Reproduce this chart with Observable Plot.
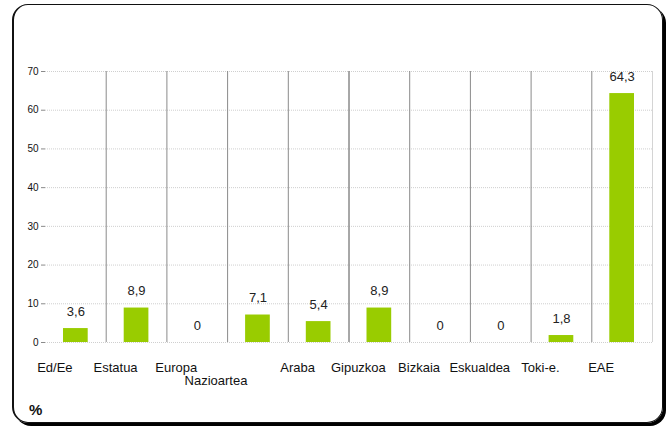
<!DOCTYPE html>
<html><head><meta charset="utf-8">
<script src="https://cdn.jsdelivr.net/npm/d3@7"></script>
<script src="https://cdn.jsdelivr.net/npm/@observablehq/plot@0.6"></script>
<style>
html,body{margin:0;padding:0;background:#fff;}
#wrap{position:relative;width:669px;height:427px;font-family:"Liberation Sans",Arial,sans-serif;}
#frame{position:absolute;left:12px;top:4px;width:648px;height:417px;border:1.5px solid #111;border-left-width:2px;border-radius:16px;box-shadow:3px 3px 0 #000;}
#pct{position:absolute;left:29px;top:401px;font-weight:bold;font-size:15px;color:#111;}
#chart{position:absolute;left:0;top:0;}
</style></head>
<body>
<div id="wrap"><div id="frame"></div><div id="chart"></div><div id="pct">%</div></div>
<script>
const categories = ["Ed/Ee","Estatua","Europa","Nazioartea","Araba","Gipuzkoa","Bizkaia","Eskualdea","Toki-e.","EAE"];
const values = [3.6, 8.9, 0, 7.1, 5.4, 8.9, 0, 0, 1.8, 64.3];
const yTicks = [0,10,20,30,40,50,60,70];

const data = categories.map((c,i)=>({cat:c, v:values[i]}));
const fmt = v => String(v).replace(".", ",");
const bw = (652-45)/categories.length;

const chart = Plot.plot({
  width: 669, height: 427,
  marginLeft: 45, marginRight: 17, marginTop: 71, marginBottom: 85,
  style: {fontFamily: '"Liberation Sans", Arial, sans-serif', background: "transparent", color: "#222"},
  x: {domain: categories, padding: 0, round: false, axis: null},
  y: {domain: [0,70], axis: null},
  marks: [
    Plot.ruleY(yTicks, {y: d=>d, stroke: "#cfcfcf", strokeDasharray: "1,1"}),
    Plot.ruleX(categories.slice(1), {x: d=>d, y1: 0, y2: 70, dx: -bw/2, stroke: "#8a8a8a"}),
    Plot.ruleX([categories[categories.length-1]], {x: d=>d, y1: 0, y2: 70, dx: bw/2, stroke: "#d4d4d4"}),
    Plot.ruleX([0], {frameAnchor: "left", x: null, y1: 0, y2: 70, stroke: "#8a8a8a"}),
    Plot.tickY(yTicks, {y: d=>d, x: () => categories[0], dx: -4, insetRight: bw - 4, stroke: "#8a8a8a"}),
    Plot.text(yTicks, {y: d=>d, text: d=>String(d), frameAnchor: "left", textAnchor: "end", dx: -7, fontSize: 10, fill: "#111"}),
    Plot.barY(data, {x: "cat", y: "v", fill: "#99cc00", insetLeft: 18, insetRight: 18}),
    Plot.text(data, {x: "cat", y: "v", text: d=>fmt(d.v), dy: -17, fontSize: 13, fill: "#222"}),
    Plot.text(data.filter(d=>d.cat!=="Nazioartea"), {x: "cat", y: 0, text: "cat", dx: -21, dy: 25, fontSize: 13, fill: "#111"}),
    Plot.text(data.filter(d=>d.cat==="Nazioartea"), {x: "cat", y: 0, text: "cat", dx: -42, dy: 38, fontSize: 13, fill: "#111"})
  ]
});
document.getElementById("chart").appendChild(chart);
</script>
</body></html>
